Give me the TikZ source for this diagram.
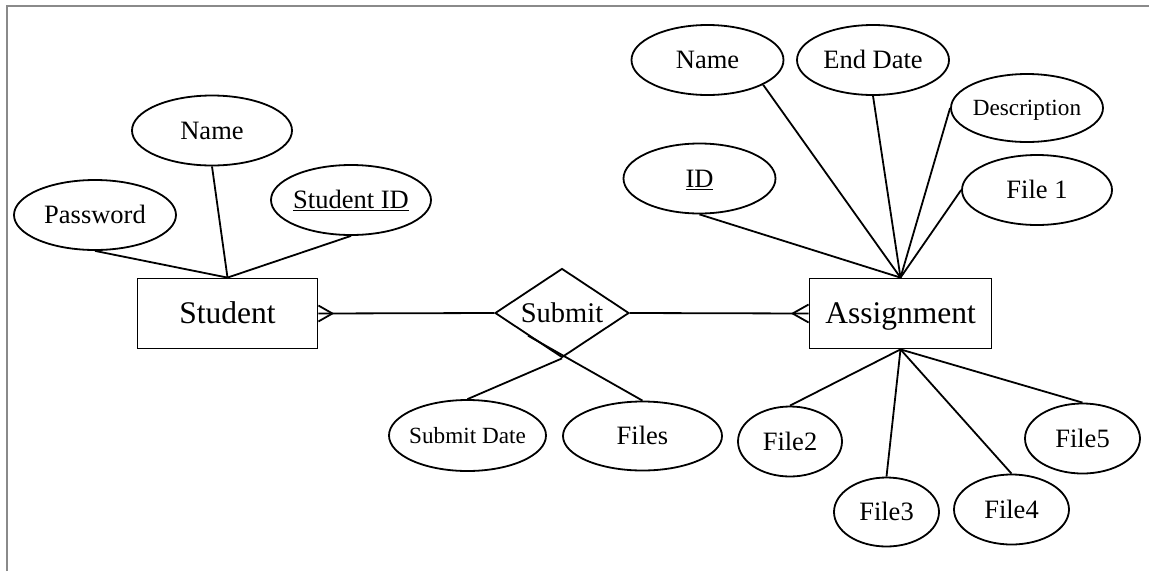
\documentclass[tikz,border=0pt]{standalone}
\usepackage{fontspec}
\setmainfont{Liberation Serif}
\usetikzlibrary{shapes.geometric,calc}

% attribute labels take no width, so the ellipse size is set only by its style
\newcommand\lbl[1]{\makebox[0pt]{#1}}
\definecolor{framegray}{RGB}{138,138,138}

\begin{document}
\begin{tikzpicture}[x=1pt,y=-1pt,line width=1.8pt,
  % text boxes sized so that the capitals sit centred in each shape
  entity/.style={draw, rectangle, inner sep=0pt, minimum width=#1,
    minimum height=70pt, text height=26.9pt, text depth=6pt,
    font=\fontsize{31.5}{36}\selectfont},
  attr/.style 2 args={draw, ellipse, inner sep=0pt, minimum width=#1,
    minimum height=#2, text height=22.5pt, text depth=5pt,
    font=\fontsize{26.5}{30}\selectfont},
  smallattr/.style={text height=20.4pt, text depth=5pt,
    font=\fontsize{23.2}{26}\selectfont},
  relation/.style={draw, diamond, aspect=1.5, inner sep=0pt,
    text height=24.9pt, text depth=6pt,
    minimum width=134pt, minimum height=89pt, font=\fontsize{28.5}{32}\selectfont},
  link/.style={line width=1.8pt}]

\useasboundingbox (0,0) rectangle (1149,571);

% frame
\draw[framegray, line width=2pt] (7,571) -- (7,5.5) -- (1149,5.5);

% entities and relationship
\node[entity=180pt] (stu) at (227.5,313.5) {Student};
\node[entity=182pt] (asg) at (900.5,313.5) {Assignment};
\node[relation] (sub) at (562,313) {Submit};

% student attributes
\node[attr={162pt}{70pt}] (spass) at (95,215) {\lbl{Password}};
\node[attr={160pt}{70pt}] (sname) at (212,130.5) {\lbl{Name}};
\node[attr={160pt}{70pt}] (sid) at (351,200) {\lbl{\underline{Student ID}}};

% assignment attributes
\node[attr={152pt}{70pt}] (aname) at (707.5,60) {\lbl{Name}};
\node[attr={152pt}{70pt}] (aend) at (873,60) {\lbl{End Date}};
\node[attr={152pt}{68pt}, smallattr] (adesc) at (1027,108) {\lbl{Description}};
\node[attr={152pt}{70pt}] (aid) at (699.5,178.5) {\lbl{\underline{ID}}};
\node[attr={150pt}{70pt}] (afile1) at (1037,190) {\lbl{File 1}};
\node[attr={104pt}{70pt}] (f2) at (790,441.5) {\lbl{File2}};
\node[attr={105pt}{69pt}] (f3) at (886.5,512) {\lbl{File3}};
\node[attr={115pt}{70pt}] (f4) at (1011.5,509.5) {\lbl{File4}};
\node[attr={115pt}{70pt}] (f5) at (1082.5,438.5) {\lbl{File5}};

% relationship attributes
\node[attr={157pt}{71pt}, smallattr] (sdate) at (467.5,435.5) {\lbl{Submit Date}};
\node[attr={159pt}{69pt}] (files) at (642.5,436) {\lbl{Files}};

% attribute links
\draw[link] (spass.south) -- (stu.north);
\draw[link] (sname.south) -- (stu.north);
\draw[link] (sid.south) -- (stu.north);

\draw[link] (aid.south) -- (asg.north);
\draw[link] (aname.-24) -- (asg.north);
\draw[link] (aend.south) -- (asg.north);
\draw[link] (adesc.west) -- (asg.north);
\draw[link] (afile1.west) -- (asg.north);

\draw[link] (asg.south) -- (f2.north);
\draw[link] (asg.south) -- (f3.north);
\draw[link] (asg.south) -- (f4.north);
\draw[link] (asg.south) -- (f5.north);

\draw[link] (sdate.north) -- (sub.south);
\coordinate (subcut) at ($(sub.west)!0.5!(sub.south)$);
\draw[link] (files.north) -- (subcut);

% relationship lines with crow's feet
\draw[link] (stu.east) -- (sub.west);
\draw[link] (sub.east) -- (asg.west);
\coordinate (stufoot) at ($(stu.east)+(14,0)$);
\draw[link] ($(stu.east)+(0,-8)$) -- (stufoot) -- ($(stu.east)+(0,8)$);
\coordinate (asgfoot) at ($(asg.west)+(-16,0)$);
\draw[link] ($(asg.west)+(0,-9)$) -- (asgfoot) -- ($(asg.west)+(0,9)$);

\end{tikzpicture}
\end{document}
